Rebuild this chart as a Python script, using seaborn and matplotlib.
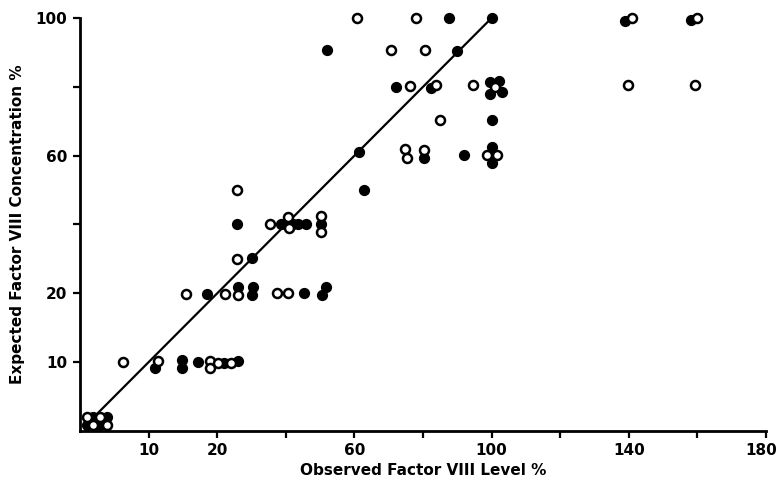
import numpy as np
import matplotlib
matplotlib.use("Agg")
import matplotlib.pyplot as plt
import matplotlib.transforms as mtransforms
import seaborn as sns

# Значення (ось 0-20 розтягнута вдвічі)
filled_x = [1.9, 3.9, 1.0, 2.9,
            11.0, 14.9, 14.9, 17.2, 22.0, 26.2,
            18.5, 26.0, 30.5, 30.2, 45.4, 51.6, 50.6,
            30.2, 25.9, 38.5, 39.8, 42.2, 43.5, 45.8, 50.4,
            62.9,
            61.4, 80.2, 92.1, 100.2, 100.2,
            100.0,
            72.1, 82.2, 99.5, 102.2, 99.5, 102.9,
            52.1, 90.0,
            87.6, 100.2,
            138.9, 158.0]
filled_y = [2.1, 2.1, 0.8, 0.8,
            9.2, 10.3, 9.1, 10.0, 9.9, 10.2,
            19.9, 21.9, 21.9, 19.8, 20.2, 21.9, 19.7,
            30.2, 40.2, 40.2, 40.2, 40.2, 40.2, 40.2, 40.2,
            50.0,
            61.2, 59.4, 60.2, 62.6, 58.0,
            70.4,
            80.0, 79.6, 81.5, 81.7, 77.9, 78.5,
            90.6, 90.3,
            100.0, 100.0,
            99.0, 99.3]

open_x = [1.0, 2.9, 1.9, 3.9,
          6.3, 11.4, 18.95, 18.95, 20.3, 24.0,
          15.4, 22.2, 26.0, 37.5, 40.5,
          25.9, 25.9,
          35.4, 40.5, 40.8, 50.4, 50.4,
          74.8, 75.2, 80.4, 98.8, 101.5,
          85.1,
          76.2, 83.8, 94.5, 101.0,
          70.6, 80.5,
          60.8, 77.9,
          141.0, 159.8, 139.9, 159.3]
open_y = [2.1, 2.1, 0.8, 0.8,
          10.0, 10.1, 10.2, 9.1, 9.9, 9.9,
          19.9, 19.9, 19.8, 20.2, 20.2,
          30.0, 50.0,
          40.2, 42.3, 38.9, 42.5, 37.9,
          61.9, 59.4, 61.7, 60.2, 60.2,
          70.4,
          80.3, 80.6, 80.6, 80.0,
          90.6, 90.6,
          100.0, 100.0,
          100.0, 100.0, 80.6, 80.6]

line_x = [2.5, 100]
line_y = [2.5, 100]

x_ticks = [10, 20, 40, 60, 80, 100, 120, 140, 160, 180]
x_labels = ['10', '20', '', '60', '', '100', '', '140', '', '180']
y_ticks = [10, 20, 40, 60, 80, 100]
y_labels = ['10', '20', '', '60', '', '100']


def fwd(v):
    v = np.asarray(v, dtype=float)
    return np.where(v <= 20, 2 * v, v + 20)


def inv(f):
    f = np.asarray(f, dtype=float)
    return np.where(f <= 40, f / 2, f - 20)


sns.set_theme(style="white")
plt.rcParams['font.family'] = ['DejaVu Sans']

fig = plt.figure(figsize=(7.79, 4.83), dpi=100)
ax = fig.add_axes([0.1027, 0.1077, 0.8806, 0.855])
ax.set_xscale('function', functions=(fwd, inv))
ax.set_yscale('function', functions=(fwd, inv))

ax.plot(line_x, line_y, color='black', lw=1.6, zorder=2)

sns.scatterplot(x=filled_x, y=filled_y, ax=ax, s=50, color='black',
                edgecolor='black', linewidth=1.0, clip_on=False, zorder=3)
sns.scatterplot(x=open_x, y=open_y, ax=ax, s=42, facecolor='white',
                edgecolor='black', linewidth=1.8, clip_on=False, zorder=4)

ax.set_xlim(0, 180)
ax.set_ylim(0, 100)
ax.set_xticks(x_ticks)
ax.set_xticklabels(x_labels)
ax.set_yticks(y_ticks)
ax.set_yticklabels(y_labels)
ax.minorticks_off()

for side in ['top', 'right']:
    ax.spines[side].set_visible(False)
for side in ['left', 'bottom']:
    ax.spines[side].set_linewidth(2)
    ax.spines[side].set_color('black')

ax.tick_params(direction='out', length=5, width=1.6, colors='black',
               labelcolor='black', labelsize=11, pad=4, left=True, bottom=True)
for lab in ax.get_xticklabels() + ax.get_yticklabels():
    lab.set_fontweight('bold')

# останню мітку трохи зсуваємо вліво, щоб вона вміщалась
last = ax.get_xticklabels()[-1]
last.set_transform(last.get_transform() +
                   mtransforms.ScaledTranslation(-5 / 100, 0, fig.dpi_scale_trans))

ax.set_xlabel('Observed Factor VIII Level %', fontsize=11, fontweight='bold',
              color='black', labelpad=3)
ax.set_ylabel('Expected Factor VIII Concentration %', fontsize=11,
              fontweight='bold', color='black', labelpad=8)

fig.savefig('out.png', dpi=100, facecolor='white')
